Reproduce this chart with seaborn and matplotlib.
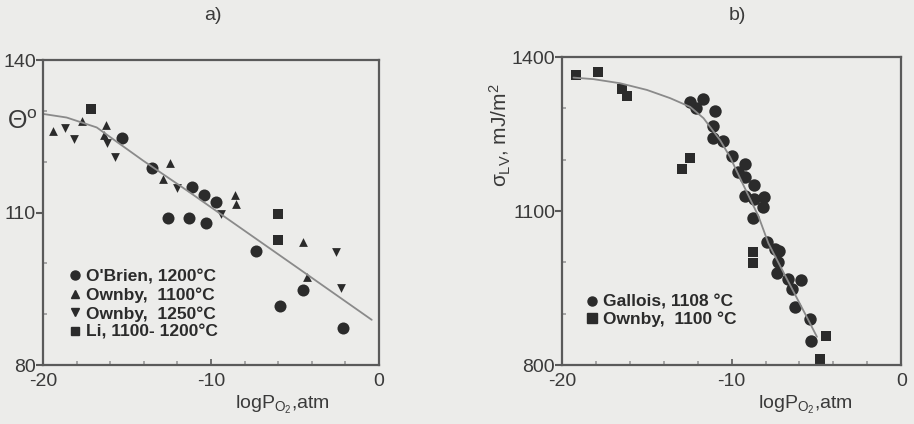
import pandas as pd
import matplotlib.pyplot as plt
import seaborn as sns
from matplotlib.lines import Line2D
from matplotlib.ticker import MultipleLocator

# ---- panel a) contact angle vs logPO2 ----
obrien_x = [-15.32, -13.53, -11.15, -10.42, -9.72, -12.54, -11.31, -10.30, -7.32, -4.54, -5.89, -2.16]
obrien_y = [124.7, 118.7, 115.1, 113.4, 112.0, 109.0, 109.0, 107.9, 102.4, 94.8, 91.7, 87.3]
ownby1100_x = [-19.39, -17.70, -16.25, -16.35, -12.44, -12.88, -8.57, -8.51, -4.50, -4.27]
ownby1100_y = [126.1, 128.0, 127.2, 125.3, 119.8, 116.7, 113.4, 111.7, 104.3, 97.4]
ownby1250_x = [-18.69, -18.15, -16.17, -15.71, -12.0, -9.42, -2.56, -2.28]
ownby1250_y = [126.6, 124.4, 123.6, 121.0, 114.8, 109.8, 102.3, 95.1]
li_x = [-17.16, -6.03, -6.03]
li_y = [130.4, 109.8, 104.7]
fit_a_x = [-19.98, -18.59, -16.80, -14.03, -11.45, -9.07, -7.08, -4.70, -0.43]
fit_a_y = [129.4, 128.7, 126.75, 120.2, 114.4, 108.9, 104.3, 98.8, 88.9]
labels_a = ["O'Brien, 1200°C", "Ownby,  1100°C", "Ownby,  1250°C", "Li, 1100- 1200°C"]

# ---- panel b) surface tension vs logPO2 ----
gallois_x = [-12.45, -12.09, -11.70, -10.97, -11.09, -11.09, -10.52, -9.99, -9.64, -9.20,
             -9.24, -8.67, -9.20, -8.71, -8.12, -8.16, -8.75, -7.93, -7.43, -7.20, -7.24,
             -7.34, -6.65, -6.45, -5.92, -6.25, -5.37, -5.31]
gallois_y = [1313, 1300, 1318, 1294, 1266, 1242, 1237, 1207, 1177, 1192, 1166, 1151,
             1129, 1123, 1128, 1108, 1086, 1039, 1027, 1023, 1001, 979, 967, 949, 966,
             914, 890, 847]
ownby_b_x = [-19.19, -17.86, -16.48, -16.18, -12.94, -12.45, -8.75, -8.75, -4.42, -4.76]
ownby_b_y = [1365, 1371, 1337, 1324, 1181, 1203, 1021, 999, 857, 812]
fit_b_x = [-19.33, -18.15, -16.58, -15.0, -13.63, -12.45, -11.66, -10.68, -10.09, -9.30,
           -8.42, -7.83, -7.14, -6.35, -5.56, -4.97]
fit_b_y = [1360, 1357, 1349, 1336, 1320, 1303, 1281, 1238, 1205, 1150,
           1090, 1037, 993, 943, 893, 855]
labels_b = ["Gallois, 1108 °C", "Ownby,  1100 °C"]

df_a = pd.concat([
    pd.DataFrame({"x": obrien_x, "y": obrien_y, "series": labels_a[0]}),
    pd.DataFrame({"x": ownby1100_x, "y": ownby1100_y, "series": labels_a[1]}),
    pd.DataFrame({"x": ownby1250_x, "y": ownby1250_y, "series": labels_a[2]}),
    pd.DataFrame({"x": li_x, "y": li_y, "series": labels_a[3]}),
])
df_b = pd.concat([
    pd.DataFrame({"x": gallois_x, "y": gallois_y, "series": labels_b[0]}),
    pd.DataFrame({"x": ownby_b_x, "y": ownby_b_y, "series": labels_b[1]}),
])

sns.set_theme(style="ticks")
plt.rcParams['font.family'] = ['Liberation Sans', 'DejaVu Sans']
plt.rcParams['mathtext.fontset'] = 'custom'
plt.rcParams['mathtext.rm'] = 'Liberation Sans'
plt.rcParams['mathtext.it'] = 'Liberation Sans'
plt.rcParams['axes.unicode_minus'] = False

bg = '#ececea'
ink = '#2b2b2b'
txt = '#3a3a3a'
frame = '#5a5a5a'

fig = plt.figure(figsize=(9.14, 4.24), dpi=100, facecolor=bg)
ax1 = fig.add_axes([0.047, 0.139, 0.3676, 0.7193])
ax2 = fig.add_axes([0.615, 0.139, 0.371, 0.7264])

markers_a = {labels_a[0]: 'o', labels_a[1]: '^', labels_a[2]: 'v', labels_a[3]: 's'}
sizes_a = {labels_a[0]: 75, labels_a[1]: 40, labels_a[2]: 40, labels_a[3]: 50}
for lab in labels_a:
    sub = df_a[df_a.series == lab]
    sns.scatterplot(data=sub, x="x", y="y", marker=markers_a[lab], s=sizes_a[lab],
                    color=ink, edgecolor=ink, linewidth=0, ax=ax1, legend=False)
sns.lineplot(x=fit_a_x, y=fit_a_y, color='#8a8a8a', linewidth=1.3, ax=ax1)

markers_b = {labels_b[0]: 'o', labels_b[1]: 's'}
sizes_b = {labels_b[0]: 80, labels_b[1]: 50}
for lab in labels_b:
    sub = df_b[df_b.series == lab]
    sns.scatterplot(data=sub, x="x", y="y", marker=markers_b[lab], s=sizes_b[lab],
                    color=ink, edgecolor=ink, linewidth=0, ax=ax2, legend=False)
sns.lineplot(x=fit_b_x, y=fit_b_y, color='#8a8a8a', linewidth=1.3, ax=ax2)

# axes styling
for ax, ylim, ymaj, ymin, lx in [(ax1, (80, 140), [80, 110, 140], 10, 0.714),
                                 (ax2, (800, 1400), [800, 1100, 1400], 100, 0.717)]:
    ax.set_facecolor(bg)
    ax.set_xlim(-20, 0)
    ax.set_ylim(*ylim)
    ax.set_xticks([-20, -10, 0])
    ax.xaxis.set_minor_locator(MultipleLocator(2))
    ax.set_yticks(ymaj)
    ax.yaxis.set_minor_locator(MultipleLocator(ymin))
    ax.tick_params(axis='x', which='major', direction='in', length=4, width=1.2,
                   color=frame, labelsize=14, labelcolor=txt, pad=6)
    ax.tick_params(axis='x', which='minor', direction='in', length=3, width=1.2, color='#9a9a9a')
    ax.tick_params(axis='y', which='major', direction='out', length=5, width=1.5,
                   color=frame, labelsize=14, labelcolor=txt, pad=0)
    ax.tick_params(axis='y', which='minor', direction='in', length=3, width=1.2, color='#9a9a9a')
    for sp in ax.spines.values():
        sp.set_color(frame)
        sp.set_linewidth(1.6)
        sp.set_visible(True)
    ax.set_xlabel(r'logP$_{\mathrm{O}_\mathrm{2}}$,atm', fontsize=14, color=txt)
    ax.xaxis.label.set_va('center')
    ax.xaxis.set_label_coords(lx, -0.13)
    ax.set_ylabel('')

ax1.text(-0.0625, 0.797, r'Θ$^{\mathrm{o}}$', transform=ax1.transAxes, fontsize=18,
         color=txt, ha='center', va='center')
ax2.text(-0.183, 0.747, r'$\sigma_{\mathrm{LV}}$, mJ/m$^2$', transform=ax2.transAxes, fontsize=15,
         color=txt, ha='center', va='center', rotation=90)

fig.text(213 / 914, 1 - 15 / 424, 'a)', fontsize=14, color=txt, ha='center', va='center')
fig.text(737 / 914, 1 - 15 / 424, 'b)', fontsize=14, color=txt, ha='center', va='center')

h_a = [Line2D([], [], linestyle='none', marker=markers_a[l], color=ink,
              markersize=6.5 if markers_a[l] == 'o' else 5.5) for l in labels_a]
ax1.legend(h_a, labels_a, loc='lower left', bbox_to_anchor=(0.05, 0.055), frameon=False,
           borderpad=0, labelspacing=0.17, handlelength=0.7, handletextpad=0.3,
           prop={'size': 12.5, 'weight': 'bold'}, labelcolor=ink)

h_b = [Line2D([], [], linestyle='none', marker=markers_b[l], color=ink, markersize=6.5)
       for l in labels_b]
ax2.legend(h_b, labels_b, loc='lower left', bbox_to_anchor=(0.044, 0.095), frameon=False,
           borderpad=0, labelspacing=0.1, handlelength=0.7, handletextpad=0.3,
           prop={'size': 12.5, 'weight': 'bold'}, labelcolor=ink)

plt.savefig('out.png', dpi=100, facecolor=bg)
